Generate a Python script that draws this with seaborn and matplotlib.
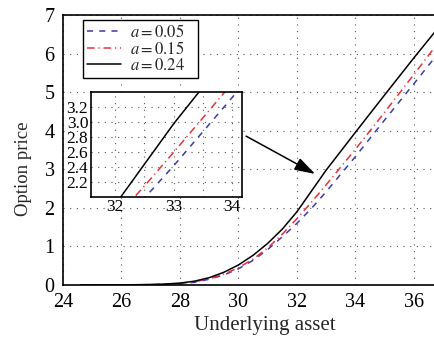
import numpy as np
import pandas as pd
import matplotlib
matplotlib.use("Agg")
import matplotlib.pyplot as plt
import seaborn as sns

# ---- data ----
S = [24.6, 25, 26, 27, 27.5, 28, 28.5, 29, 29.5, 30, 30.5, 31, 31.5, 32, 32.5, 33, 34, 35, 36, 36.8]
price_a005 = [0, 0, 0.002, 0.01, 0.018, 0.035, 0.07, 0.15, 0.26, 0.42, 0.64, 0.92, 1.25, 1.60, 1.99, 2.42, 3.33, 4.28, 5.22, 5.98]
price_a015 = [0, 0, 0.002, 0.01, 0.02, 0.04, 0.085, 0.16, 0.28, 0.45, 0.67, 0.96, 1.32, 1.72, 2.15, 2.60, 3.52, 4.48, 5.46, 6.25]
price_a024 = [0, 0, 0.003, 0.012, 0.025, 0.05, 0.10, 0.19, 0.33, 0.52, 0.77, 1.08, 1.45, 1.90, 2.44, 2.98, 3.96, 4.93, 5.89, 6.64]
series_labels = [r"$a=0.05$", r"$a=0.15$", r"$a=0.24$"]

x_ticks = [24, 26, 28, 30, 32, 34, 36]
y_ticks = [0, 1, 2, 3, 4, 5, 6, 7]
inset_xticks = [32, 32.5, 33, 33.5, 34]
inset_xticklabels = ["32", "", "33", "", "34"]
inset_yticks = [2.2, 2.4, 2.6, 2.8, 3.0, 3.2]
inset_yticklabels = ["2.2", "2.4", "2.6", "2.8", "3.0", "3.2"]

sns.set_theme(style="white")
plt.rcParams["font.family"] = ["Liberation Serif", "DejaVu Serif"]
plt.rcParams["mathtext.fontset"] = "stix"
plt.rcParams["xtick.direction"] = "in"
plt.rcParams["ytick.direction"] = "in"

W, H = 435, 344
fig = plt.figure(figsize=(W / 100, H / 100), dpi=100)
fig.patch.set_facecolor("white")

ax = fig.add_axes([63 / W, 59 / H, 372 / W, 270 / H])

styles = [
    (price_a005, series_labels[0], "#3b3bb0", (0, (4, 4))),
    (price_a015, series_labels[1], "#e8313b", (0, (5, 2.5, 0.8, 2.5))),
    (price_a024, series_labels[2], "black", "-"),
]

def draw(a):
    for vals, lab, col, ls in styles:
        df = pd.DataFrame({"S": S, "V": vals})
        sns.lineplot(data=df, x="S", y="V", ax=a, color=col, linestyle=ls,
                     linewidth=1.1, estimator=None, sort=False, legend=False)

draw(ax)

ax.set_xlim(24, 36.72)
ax.set_ylim(0, 7)
ax.set_xticks(x_ticks)
ax.set_yticks(y_ticks)
ax.set_xlabel("Underlying asset", fontsize=15)
ax.set_ylabel("Option price", fontsize=13.5)
ax.xaxis.set_label_coords(0.543, -0.113)
ax.yaxis.set_label_coords(-0.082, 0.43)
ax.tick_params(axis="both", labelsize=14.5, length=4, width=1, pad=6, colors="black")
ax.grid(True, color="#555555", linestyle=(0, (1, 5)), linewidth=0.8)
for side in ["left", "bottom", "top"]:
    ax.spines[side].set_color("black")
    ax.spines[side].set_linewidth(1.2)
ax.spines["right"].set_visible(False)

handles = ax.get_lines()[:3]
leg = ax.legend(handles, [l + "   " for l in series_labels], loc="upper left",
                bbox_to_anchor=(83 / W, 1 - 20 / H), bbox_transform=fig.transFigure,
                fancybox=False, edgecolor="black", framealpha=1, fontsize=12,
                handlelength=2.0, handletextpad=0.55, borderaxespad=0,
                borderpad=0.25, labelspacing=0.0)
leg.get_frame().set_linewidth(1.0)

ax.annotate("", xy=(32.62, 2.88), xytext=(30.26, 3.86),
            arrowprops=dict(arrowstyle="-|>,head_length=0.7,head_width=0.22",
                            color="black", lw=1.1, shrinkA=0, shrinkB=0,
                            mutation_scale=18))

# ---- inset ----
axi = fig.add_axes([91 / W, (H - 196.7) / H, 151 / W, 105 / H])
draw(axi)
axi.set_xlim(31.59, 34.17)
axi.set_ylim(2.01, 3.41)
axi.set_xticks(inset_xticks)
axi.set_xticklabels(inset_xticklabels)
axi.set_yticks(inset_yticks)
axi.set_yticklabels(inset_yticklabels)
axi.set_xlabel("")
axi.set_ylabel("")
axi.tick_params(axis="both", labelsize=12.5, length=3, width=1, pad=2, colors="black")
axi.grid(True, color="#555555", linestyle=(0, (1, 5)), linewidth=0.8)
for side in ["left", "bottom", "top", "right"]:
    axi.spines[side].set_color("black")
    axi.spines[side].set_linewidth(1.2)

fig.savefig("out.png", dpi=100)
